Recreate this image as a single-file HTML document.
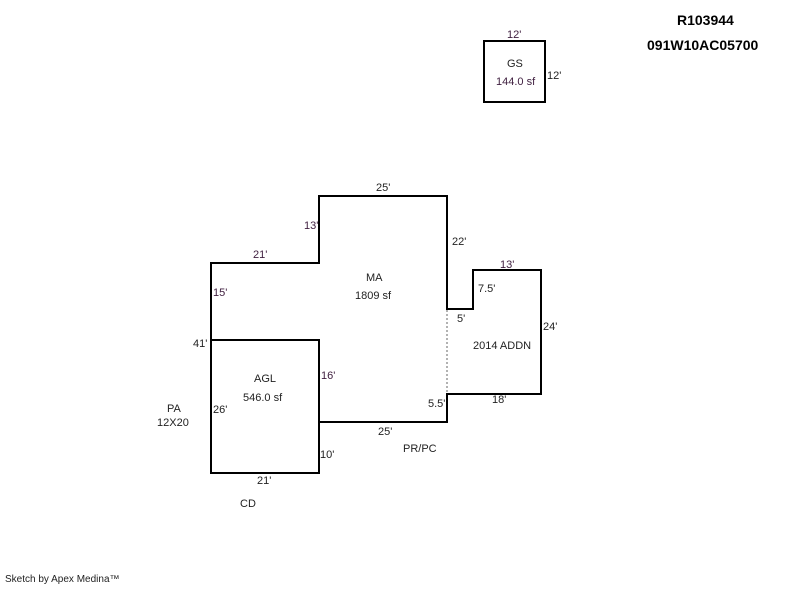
<!DOCTYPE html>
<html><head><style>
body{margin:0;background:#fff;width:800px;height:587px;overflow:hidden}
svg text{font-family:"Liberation Sans",Arial,sans-serif;font-size:11px;fill:#222}
.p{fill:#402040}
.b{font-weight:bold;font-size:14px;fill:#000}
</style></head><body>
<svg width="800" height="587" xmlns="http://www.w3.org/2000/svg">
<g fill="none" stroke="#000" stroke-width="2">
<polygon points="211,263 319,263 319,196 447,196 447,309 473,309 473,270 541,270 541,394 447,394 447,422 319,422 319,473 211,473"/>
<polyline points="211,340 319,340 319,422"/>
<rect x="484" y="41" width="61" height="61"/>
</g>
<line x1="447" y1="310" x2="447" y2="393" stroke="#999" stroke-width="1.5" stroke-dasharray="2,2"/>
<text class="b" x="677" y="25">R103944</text>
<text class="b" x="647" y="50">091W10AC05700</text>
<text class="p" x="507" y="38">12'</text>
<text x="547" y="79">12'</text>
<text x="507" y="67">GS</text>
<text class="p" x="496" y="85">144.0 sf</text>
<text x="376" y="191">25'</text>
<text class="p" x="304" y="229">13'</text>
<text x="452" y="245">22'</text>
<text class="p" x="253" y="258">21'</text>
<text x="366" y="281">MA</text>
<text x="355" y="299">1809 sf</text>
<text class="p" x="500" y="268">13'</text>
<text x="478" y="292">7.5'</text>
<text class="p" x="213" y="296">15'</text>
<text x="457" y="322">5'</text>
<text x="543" y="330">24'</text>
<text x="193" y="347">41'</text>
<text x="473" y="349">2014 ADDN</text>
<text class="p" x="321" y="379">16'</text>
<text x="254" y="382">AGL</text>
<text x="243" y="401">546.0 sf</text>
<text x="428" y="407">5.5'</text>
<text x="492" y="403">18'</text>
<text x="167" y="412">PA</text>
<text x="157" y="426">12X20</text>
<text x="213" y="413">26'</text>
<text x="378" y="435">25'</text>
<text x="403" y="452">PR/PC</text>
<text x="320" y="458">10'</text>
<text x="257" y="484">21'</text>
<text x="240" y="507">CD</text>
<text x="5" y="582" style="font-size:10px">Sketch by Apex Medina™</text>
</svg>
</body></html>
